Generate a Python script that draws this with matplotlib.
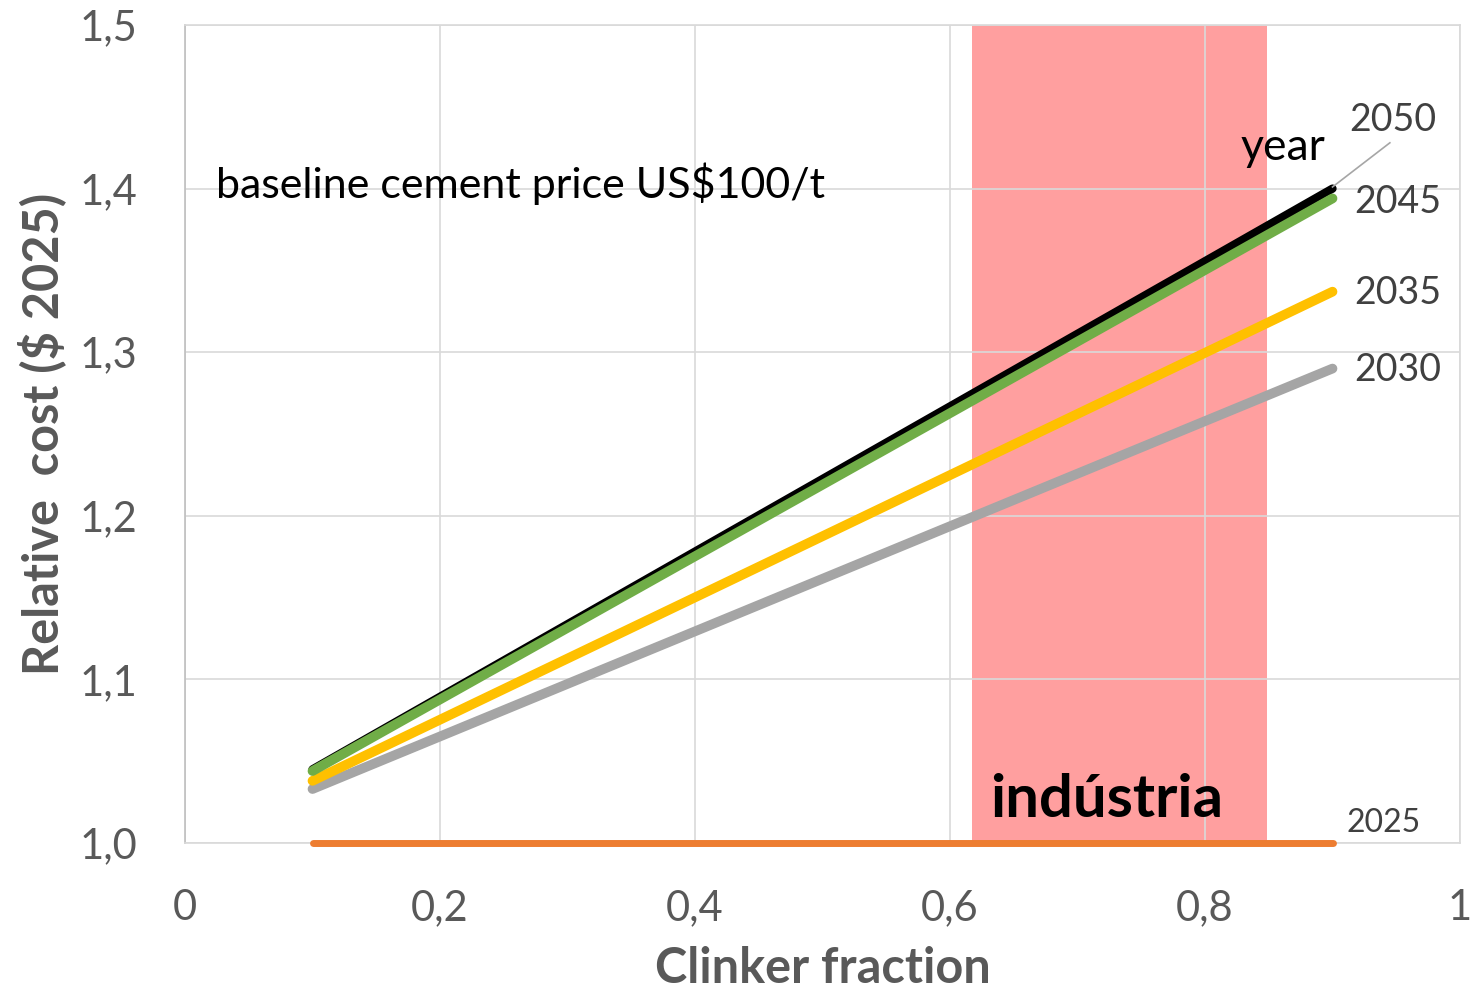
import numpy as np
import matplotlib.pyplot as plt

plt.rcParams['font.family'] = ['Lato', 'DejaVu Sans']

# Dados
x_ends = [0.1, 0.9]
anos = ['2025', '2030', '2035', '2045', '2050']
custo = {
    '2025': [1.000, 1.000],
    '2030': [1.033, 1.290],
    '2035': [1.038, 1.337],
    '2045': [1.044, 1.394],
    '2050': [1.045, 1.400],
}
cores = {
    '2025': '#ed7d31',
    '2030': '#a5a5a5',
    '2035': '#ffc000',
    '2045': '#70ad47',
    '2050': '#000000',
}
largura = {'2025': 5, '2030': 7, '2035': 7, '2045': 7, '2050': 6}
ordem = ['2025', '2030', '2035', '2050', '2045']
faixa_industria = [0.617, 0.849]

xticks = [0, 0.2, 0.4, 0.6, 0.8, 1.0]
xticklabels = ['0', '0,2', '0,4', '0,6', '0,8', '1']
yticks = [1.0, 1.1, 1.2, 1.3, 1.4, 1.5]
yticklabels = ['1,0', '1,1', '1,2', '1,3', '1,4', '1,5']

fig = plt.figure(figsize=(14.71, 9.92), dpi=100)
ax = fig.add_axes([185/1471, 1 - 843/992, 1275/1471, 818/992])

ax.axvspan(faixa_industria[0], faixa_industria[1], color='#ff9f9f', zorder=0.3, lw=0)

for ano in ordem:
    ax.plot(x_ends, custo[ano], color=cores[ano], lw=largura[ano],
            solid_capstyle='round', zorder=3, clip_on=False)

ax.set_xlim(0, 1)
ax.set_ylim(1.0, 1.5)
ax.set_xticks(xticks)
ax.set_xticklabels(xticklabels)
ax.set_yticks(yticks)
ax.set_yticklabels(yticklabels)
ax.tick_params(length=0, labelsize=30, colors='#595959')
ax.tick_params(axis='x', pad=33)
ax.tick_params(axis='y', pad=34)
ax.set_axisbelow(True)
ax.grid(color='#d9d9d9', lw=1.2)
for s in ax.spines.values():
    s.set_color('#d9d9d9')
    s.set_linewidth(1.2)
ax.spines['left'].set_color('#bfbfbf')

ax.set_xlabel('Clinker fraction', fontsize=35, fontweight='bold', color='#595959', labelpad=14)
ax.set_ylabel('Relative  cost ($ 2025)', fontsize=35, fontweight='bold', color='#595959', labelpad=10)

# rótulos das séries
rot_cor = '#404040'
ax.text(0.947, 1.442, '2050', fontsize=27, color=rot_cor, ha='center', va='center')
ax.text(0.951, 1.392, '2045', fontsize=27, color=rot_cor, ha='center', va='center')
ax.text(0.951, 1.336, '2035', fontsize=27, color=rot_cor, ha='center', va='center')
ax.text(0.951, 1.289, '2030', fontsize=27, color=rot_cor, ha='center', va='center')
ax.text(0.940, 1.012, '2025', fontsize=23, color=rot_cor, ha='center', va='center')
ax.plot([0.9, 0.945], [1.401, 1.428], color='#a6a6a6', lw=1.2, zorder=4)
ax.text(0.861, 1.425, 'year', fontsize=32, color='black', ha='center', va='center')

ax.text(0.024, 1.403, 'baseline cement price US$100/t', fontsize=31, color='black',
        ha='left', va='center')
ax.text(0.723, 1.026, 'indústria', fontsize=43, fontweight='bold', color='black',
        ha='center', va='center', zorder=5)

fig.savefig('out.png', dpi=100)
